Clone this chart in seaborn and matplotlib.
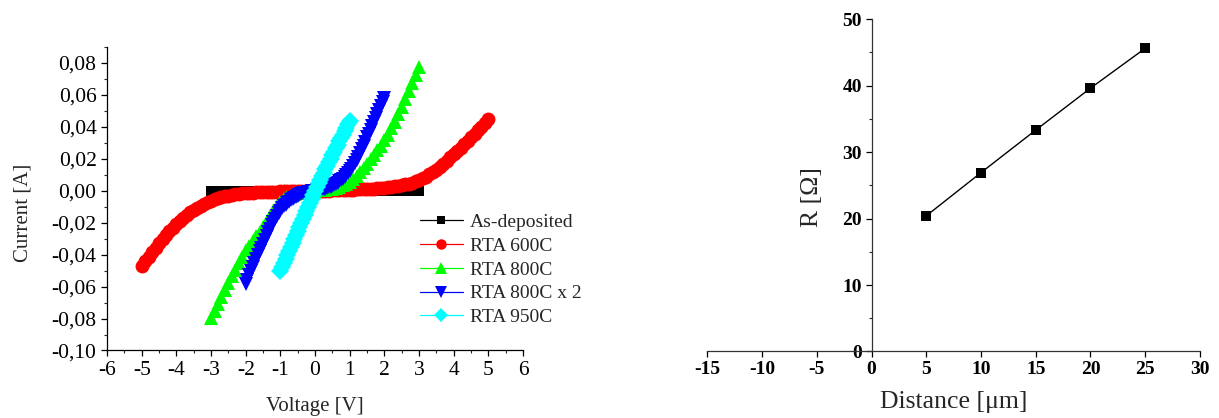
import numpy as np
import matplotlib
matplotlib.use('Agg')
import matplotlib.pyplot as plt
from matplotlib.ticker import FuncFormatter, MultipleLocator
import seaborn as sns

# --- I-V sweeps (left panel) ---
labels = ['As-deposited', 'RTA 600C', 'RTA 800C', 'RTA 800C x 2', 'RTA 950C']
colors = ['#000000', '#ff0000', '#00ff00', '#0000ff', '#00ffff']
markers = ['s', 'o', '^', 'v', 'D']

# voltage sweeps (instrument grid)
v_asdep = np.linspace(-3, 3, 61)
v_600 = np.linspace(-5, 5, 101)
v_800 = np.linspace(-3, 3, 61)
v_800x2 = np.linspace(-2, 2, 81)
v_950 = np.linspace(-1, 1, 41)

i_asdep = [0.0000, 0.0000, 0.0000, 0.0000, 0.0000, 0.0000, 0.0000, 0.0000, 0.0000, 0.0000,
           0.0000, 0.0000, 0.0000, 0.0000, 0.0000, 0.0000, 0.0000, 0.0000, 0.0000, 0.0000,
           0.0000, 0.0000, 0.0000, 0.0000, 0.0000, 0.0000, 0.0000, 0.0000, 0.0000, 0.0000,
           0.0000,
           0.0000, 0.0000, 0.0000, 0.0000, 0.0000, 0.0000, 0.0000, 0.0000, 0.0000, 0.0000,
           0.0000, 0.0000, 0.0000, 0.0000, 0.0000, 0.0000, 0.0000, 0.0000, 0.0000, 0.0000,
           0.0000, 0.0000, 0.0000, 0.0000, 0.0000, 0.0000, 0.0000, 0.0000, 0.0000, 0.0000]

i_600 = [-0.0473, -0.0442, -0.0413, -0.0384, -0.0356, -0.0329, -0.0303, -0.0279, -0.0255, -0.0233,
         -0.0211, -0.0191, -0.0172, -0.0153, -0.0136, -0.0120, -0.0106, -0.0093, -0.0081, -0.0071,
         -0.0062, -0.0054, -0.0047, -0.0041, -0.0035, -0.0030, -0.0026, -0.0023, -0.0020, -0.0017,
         -0.0015, -0.0013, -0.0012, -0.0010, -0.0009, -0.0008, -0.0007, -0.0006, -0.0005, -0.0005,
         -0.0004, -0.0004, -0.0003, -0.0003, -0.0002, -0.0002, -0.0001, -0.0001, -0.0001, 0.0000,
         0.0000,
         0.0000, 0.0001, 0.0001, 0.0001, 0.0002, 0.0002, 0.0003, 0.0004, 0.0005, 0.0006,
         0.0007, 0.0008, 0.0009, 0.0010, 0.0011, 0.0013, 0.0014, 0.0016, 0.0018, 0.0020,
         0.0022, 0.0025, 0.0028, 0.0031, 0.0035, 0.0040, 0.0045, 0.0051, 0.0058, 0.0066,
         0.0077, 0.0089, 0.0102, 0.0116, 0.0132, 0.0150, 0.0169, 0.0189, 0.0209, 0.0229,
         0.0249, 0.0270, 0.0291, 0.0312, 0.0334, 0.0356, 0.0378, 0.0401, 0.0424, 0.0447]

i_800 = [-0.0794, -0.0750, -0.0707, -0.0664, -0.0622, -0.0580, -0.0536, -0.0493, -0.0452, -0.0412,
         -0.0374, -0.0344, -0.0314, -0.0285, -0.0256, -0.0228, -0.0191, -0.0157, -0.0125, -0.0096,
         -0.0071, -0.0054, -0.0040, -0.0030, -0.0022, -0.0016, -0.0011, -0.0007, -0.0004, -0.0002,
         0.0000,
         0.0002, 0.0004, 0.0006, 0.0009, 0.0013, 0.0018, 0.0025, 0.0033, 0.0043, 0.0055,
         0.0072, 0.0092, 0.0115, 0.0141, 0.0169, 0.0196, 0.0224, 0.0253, 0.0283, 0.0315,
         0.0351, 0.0391, 0.0433, 0.0478, 0.0525, 0.0573, 0.0622, 0.0672, 0.0723, 0.0775]

i_800x2 = [-0.0583, -0.0556, -0.0530, -0.0504, -0.0478, -0.0453, -0.0428, -0.0404, -0.0380, -0.0357,
           -0.0334, -0.0309, -0.0284, -0.0260, -0.0237, -0.0215, -0.0194, -0.0175, -0.0157, -0.0140,
           -0.0124, -0.0110, -0.0098, -0.0087, -0.0077, -0.0068, -0.0059, -0.0051, -0.0044, -0.0037,
           -0.0031, -0.0026, -0.0021, -0.0017, -0.0014, -0.0011, -0.0008, -0.0006, -0.0004, -0.0002,
           0.0000,
           0.0002, 0.0004, 0.0006, 0.0008, 0.0011, 0.0014, 0.0017, 0.0021, 0.0025, 0.0030,
           0.0036, 0.0043, 0.0050, 0.0058, 0.0067, 0.0076, 0.0086, 0.0097, 0.0109, 0.0123,
           0.0139, 0.0156, 0.0174, 0.0193, 0.0214, 0.0236, 0.0259, 0.0283, 0.0308, 0.0335,
           0.0358, 0.0381, 0.0405, 0.0429, 0.0453, 0.0478, 0.0503, 0.0528, 0.0554, 0.0580]

i_950 = [-0.0500, -0.0476, -0.0452, -0.0428, -0.0404, -0.0380, -0.0355, -0.0330, -0.0305, -0.0279,
         -0.0253, -0.0228, -0.0203, -0.0178, -0.0153, -0.0128, -0.0103, -0.0077, -0.0051, -0.0025,
         0.0000,
         0.0023, 0.0046, 0.0069, 0.0091, 0.0113, 0.0135, 0.0157, 0.0179, 0.0201, 0.0222,
         0.0244, 0.0266, 0.0287, 0.0309, 0.0331, 0.0352, 0.0373, 0.0394, 0.0415, 0.0435]

# --- resistance vs contact distance (right panel) ---
distance = [5, 10, 15, 20, 25]
resistance = [20.4, 26.9, 33.3, 39.6, 45.6]

sns.set_style('ticks')
plt.rcParams['font.family'] = ['Liberation Serif', 'DejaVu Serif']
plt.rcParams['axes.unicode_minus'] = False

fig = plt.figure(figsize=(12.19, 4.18), dpi=100)
ax1 = fig.add_axes([0.0878, 0.1615, 0.3413, 0.7261])
ax2 = fig.add_axes([0.5802, 0.1591, 0.4042, 0.7954])

sweeps = [(v_asdep, i_asdep), (v_600, i_600), (v_800, i_800),
          (v_800x2, i_800x2), (v_950, i_950)]
msizes = [7, 10, 10, 10, 9.5]
for (v, cur), lab, col, mk, ms in zip(sweeps, labels, colors, markers, msizes):
    sns.lineplot(x=v, y=cur, ax=ax1, color=col, marker=mk, markersize=ms,
                 markeredgewidth=0, linewidth=0.9, label=lab,
                 estimator=None, sort=False)

ax1.set_xlim(-6, 6)
ax1.set_ylim(-0.10, 0.09)
ax1.xaxis.set_major_locator(MultipleLocator(1))
ax1.xaxis.set_minor_locator(MultipleLocator(0.5))
ax1.set_yticks(np.arange(-0.10, 0.081, 0.02))
ax1.yaxis.set_minor_locator(MultipleLocator(0.01))


def comma_fmt(val, pos):
    s = f'{val:.2f}'
    if s == '-0.00':
        s = '0.00'
    return s.replace('.', ',')


def int_fmt(val, pos):
    s = f'{val:.0f}'
    return '0' if s == '-0' else s


ax1.yaxis.set_major_formatter(FuncFormatter(comma_fmt))
ax1.xaxis.set_major_formatter(FuncFormatter(int_fmt))
ax1.tick_params(which='major', direction='out', length=4.5, width=0.9, labelsize=15.5,
                colors='black', pad=3)
ax1.tick_params(which='minor', direction='out', length=2.5, width=0.8)
ax1.set_xlabel('Voltage [V]', fontsize=15, labelpad=12)
ax1.set_ylabel('Current [A]', fontsize=15, labelpad=14)
ax1.yaxis.label.set_y(0.452)
sns.despine(ax=ax1)
for sp in ['left', 'bottom']:
    ax1.spines[sp].set_linewidth(0.9)
    ax1.spines[sp].set_color('black')

leg = ax1.legend(loc='upper left', bbox_to_anchor=(0.752, 0.452), frameon=False,
                 fontsize=14, handlelength=2.2, handletextpad=0.36, labelspacing=0.32,
                 borderaxespad=0, borderpad=0)
for h, ms in zip(leg.legend_handles, [6, 7.5, 8, 8, 7.5]):
    h.set_markersize(ms)

# right panel
sns.lineplot(x=distance, y=resistance, ax=ax2, color='black', marker='s',
             markersize=7, markeredgewidth=0, linewidth=1, estimator=None)
ax2.set_xlim(-15, 30)
ax2.set_ylim(0, 50)
ax2.xaxis.set_major_locator(MultipleLocator(5))
ax2.yaxis.set_major_locator(MultipleLocator(10))
ax2.yaxis.set_minor_locator(MultipleLocator(5))
ax2.xaxis.set_major_formatter(FuncFormatter(int_fmt))
sns.despine(ax=ax2)
ax2.spines['left'].set_position(('data', 0))
for sp in ['left', 'bottom']:
    ax2.spines[sp].set_linewidth(0.9)
    ax2.spines[sp].set_color('#333333')
ax2.tick_params(which='major', direction='out', length=4, width=0.9, labelsize=14,
                colors='black', pad=3)
ax2.tick_params(which='minor', direction='out', length=2.5, width=0.8)
for t in ax2.get_xticklabels() + ax2.get_yticklabels():
    t.set_fontweight('bold')
ax2.set_xlabel('Distance [μm]', fontsize=18.5, labelpad=9)
ax2.set_ylabel('R [Ω]', fontsize=18.5, labelpad=14)
ax2.yaxis.label.set_y(0.464)

fig.savefig('out.png', dpi=100)
